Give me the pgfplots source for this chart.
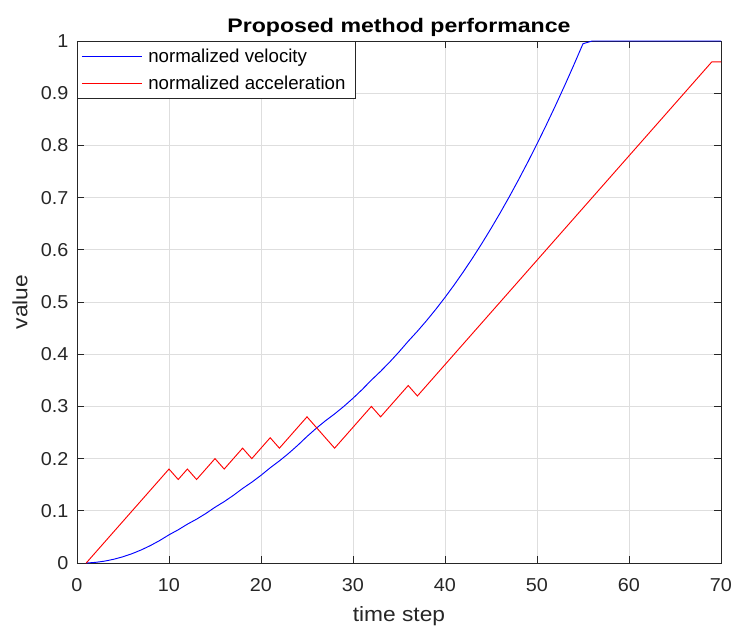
\documentclass[border=0pt]{standalone}
\usepackage{fontspec}
\setmainfont{Liberation Sans}[FakeStretch=1.06]
\newfontfamily\labelfont{Liberation Sans}[FakeStretch=1.1]
\newfontfamily\titlefont{Liberation Sans}[FakeStretch=1.18]
\newfontfamily\plainfont{Liberation Sans}
\usepackage{pgfplots}
\pgfplotsset{compat=1.18}
\definecolor{axgray}{RGB}{38,38,38}
\definecolor{gridgray}{RGB}{222,222,222}
\begin{document}
\begin{tikzpicture}
\begin{axis}[name=ax, scale only axis, width=483pt, height=391.5pt,
  xmin=0, xmax=70, ymin=0, ymax=1, clip=false,
  xtick={0,10,20,30,40,50,60,70},
  ytick={0,0.1,0.2,0.3,0.4,0.5,0.6,0.7,0.8,0.9,1},
  yticklabels={0,0.1,0.2,0.3,0.4,0.5,0.6,0.7,0.8,0.9,1},
  tick align=inside, tick pos=both, major tick length=5pt,
  grid=major, major grid style={gridgray, line width=0.6pt},
  axis line style={axgray, line width=0.6pt},
  every tick/.style={axgray, line width=0.6pt},
  ticklabel style={font=\fontsize{14}{16}\selectfont, text=axgray},
  /pgf/number format/assume math mode=true,
  xticklabel style={yshift=-8pt},
  yticklabel style={xshift=-3pt},
  title={\titlefont\bfseries Proposed method performance},
  title style={font=\fontsize{14.7}{17}\selectfont, yshift=-6.5pt},
  xlabel={\labelfont time step}, ylabel={\labelfont value},
  label style={font=\fontsize{15.5}{18}\selectfont, text=axgray},
  xlabel style={yshift=-4pt},
  ylabel style={yshift=3pt},
  legend cell align=left,
  legend style={at={(0,1)}, anchor=north west, draw=axgray, line width=0.6pt,
    font=\plainfont\fontsize{14}{16}\selectfont, inner xsep=3pt, inner ysep=4.5pt,
    row sep=6.5pt, nodes={inner xsep=4.5pt, inner ysep=1pt}},
  legend image code/.code={\draw[#1] (0pt,0pt) -- (45pt,0pt);},
]
\addplot[blue, line width=0.7pt] coordinates {
(1,0) (2,0.0012) (3,0.0036) (4,0.0072) (5,0.012) (6,0.018) (7,0.0252) (8,0.0336) (9,0.0432) (10,0.054)
(11,0.0636) (12,0.0744) (13,0.084) (14,0.0948) (15,0.1068) (16,0.1176) (17,0.1296) (18,0.1428) (19,0.1548) (20,0.168)
(21,0.1824) (22,0.1956) (23,0.21) (24,0.2256) (25,0.2424) (26,0.258) (27,0.2724) (28,0.2856) (29,0.30) (30,0.3156)
(31,0.3324) (32,0.3504) (33,0.3672) (34,0.3852) (35,0.4044) (36,0.4248) (37,0.444) (38,0.4644) (39,0.486) (40,0.5088)
(41,0.5328) (42,0.558) (43,0.5844) (44,0.612) (45,0.6408) (46,0.6708) (47,0.702) (48,0.7344) (49,0.768) (50,0.8028)
(51,0.8388) (52,0.876) (53,0.9144) (54,0.954) (55,0.9948) (56,1) (60,1) (65,1) (70,1)
};
\addlegendentry{normalized velocity}
\addplot[red, line width=0.7pt] coordinates {
(1,0) (10,0.18) (11,0.16) (12,0.18) (13,0.16) (15,0.20) (16,0.18) (18,0.22) (19,0.20) (21,0.24)
(22,0.22) (25,0.28) (28,0.22) (32,0.30) (33,0.28) (36,0.34) (37,0.32) (69,0.96) (70,0.96)
};
\addlegendentry{normalized acceleration}
\end{axis}
\pgfresetboundingbox
\path[use as bounding box] ([xshift=-57.75pt,yshift=-47.25pt]ax.south west) rectangle ([xshift=12pt,yshift=30.75pt]ax.north east);
\end{tikzpicture}
\end{document}
